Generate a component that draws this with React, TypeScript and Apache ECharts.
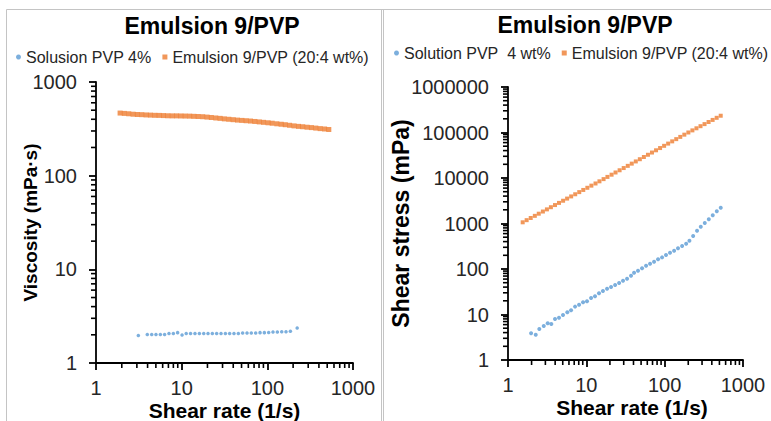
import React, { useEffect, useRef } from "react";
import * as echarts from "echarts";

const FONT = "'Liberation Sans', Arial, Helvetica, sans-serif";
const BLUE = "#5b9bd5";
const ORANGE = "#ed7d31";
const AXIS = "#000000";
const LABEL = "#262626";
const BORDER = "#c4c4c4";

const TITLE = "Emulsion 9/PVP";
const X_NAME = "Shear rate (1/s)";
const Y_NAME_L = "Viscosity (mPa·s)";
const Y_NAME_R = "Shear stress (mPa)";
const NAME_SOL_L = "Solusion PVP 4%";
const NAME_SOL_R = "Solution PVP\u00a0 4 wt%";
const NAME_EMU = "Emulsion 9/PVP (20:4 wt%)";

// Left chart: viscosity vs shear rate
const L_SOL_X = [3.12, 3.97, 4.47, 5.01, 5.64, 6.32, 7.11, 8.0, 8.97, 10.1, 11.3, 12.7, 14.3, 16.1, 18.1, 20.3, 22.8, 25.6, 28.8, 32.4, 36.3, 40.8, 45.9, 51.5, 57.9, 65.0, 73.1, 82.2, 92.3, 103.7, 116.4, 130.9, 147.2, 165.2, 185.8, 223];
const L_SOL_Y = [1.97, 2.01, 2.01, 2.02, 2.02, 2.01, 2.07, 2.06, 2.11, 1.99, 2.07, 2.07, 2.06, 2.06, 2.07, 2.07, 2.06, 2.07, 2.07, 2.07, 2.07, 2.07, 2.07, 2.09, 2.09, 2.09, 2.09, 2.11, 2.11, 2.12, 2.14, 2.14, 2.16, 2.16, 2.18, 2.36];

const L_EMU_X = [1.91, 2.14, 2.41, 2.71, 3.04, 3.42, 3.85, 4.32, 4.86, 5.46, 6.14, 6.9, 7.76, 8.72, 9.8, 11.0, 12.4, 13.9, 15.6, 17.6, 19.8, 22.2, 25.0, 28.1, 31.5, 35.5, 39.9, 44.8, 50.4, 56.6, 63.7, 71.6, 80.5, 90.4, 102, 114, 129, 145, 162, 182, 205, 231, 259, 291, 327, 368, 414, 466, 522];
const L_EMU_Y = [466, 462, 458, 453, 450, 448, 445, 443, 441, 440, 438, 436, 435, 435, 434, 433, 432, 430, 428, 426, 422, 418, 413, 409, 404, 400, 396, 392, 389, 386, 383, 379, 375, 371, 367, 363, 358, 354, 350, 345, 340, 336, 333, 329, 326, 322, 318, 315, 311];

// Right chart: shear stress vs shear rate
const R_SOL_X = [1.97, 2.26, 2.51, 2.86, 3.21, 3.57, 3.98, 4.48, 5.04, 5.72, 6.38, 7.18, 8.07, 9.08, 10.2, 11.5, 12.9, 14.5, 16.3, 18.4, 20.7, 23.3, 26.2, 29.4, 33.1, 37.2, 40.7, 45.7, 51.5, 57.9, 65.1, 73.2, 82.4, 92.7, 104, 117, 132, 148, 167, 188, 207, 231, 259, 289, 325, 366, 411, 463, 520];
const R_SOL_Y = [3.86, 3.6, 4.8, 5.6, 6.4, 6.2, 7.96, 8.5, 9.75, 11.2, 12.4, 14.9, 16.4, 18.5, 19.5, 23.1, 25.1, 29.2, 32.8, 36.9, 40.2, 44.5, 49.2, 55.3, 61.2, 71.3, 83, 91.8, 103.5, 118, 131, 145, 163, 180, 203, 228, 253, 285, 320, 360, 419, 531, 695, 851, 1025, 1236, 1514, 1854, 2223];

const R_EMU_X = [1.54, 1.73, 1.95, 2.2, 2.47, 2.79, 3.14, 3.53, 3.98, 4.48, 5.05, 5.68, 6.4, 7.21, 8.12, 9.14, 10.3, 11.6, 13.1, 14.7, 16.6, 18.6, 21.0, 23.6, 26.6, 30.0, 33.8, 38.0, 42.8, 48.2, 54.3, 61.2, 68.9, 77.6, 87.4, 98.4, 110.8, 124.8, 140.5, 158.2, 178.2, 200.7, 226, 254.5, 286.7, 322.8, 363.6, 409.5, 461.2, 519.4];
const R_EMU_Y = [1062, 1184, 1321, 1473, 1643, 1833, 2044, 2280, 2543, 2837, 3164, 3528, 3936, 4390, 4896, 5462, 6092, 6795, 7578, 8453, 9450, 10570, 11820, 13220, 14790, 16540, 18490, 20680, 23130, 25870, 28950, 32420, 36280, 40630, 45500, 50930, 57030, 63860, 71480, 80060, 89630, 100100, 111300, 123700, 137600, 152900, 170100, 189000, 210200, 233700];

// Axis ranges and log minor tick multipliers
const L_X_MAX = 1000;
const L_Y_MAX = 1000;
const R_X_MAX = 1000;
const R_Y_MAX = 1000000;
const MINOR_MULTS = [2, 3, 4, 5, 6, 7, 8, 9];
const L_X_DECADES = [1, 10, 100];
const L_Y_DECADES = [1, 10, 100];
const R_X_DECADES = [1, 10, 100];
const R_Y_DECADES = [1, 10, 100, 1000, 10000, 100000];

const zip = (xs: number[], ys: number[]) => xs.map((x, i) => [x, ys[i]]);
const minorValues = (decades: number[]) =>
  decades.flatMap((d) => MINOR_MULTS.map((m) => m * d));

const axisLine = { show: true, lineStyle: { color: AXIS, width: 1.8 } };
const axisTick = { show: true, inside: false, length: 7, lineStyle: { color: AXIS, width: 1.8 } };

function xAxisOf(gridIndex: number, max: number, namePad: number[]) {
  return {
    type: "log",
    logBase: 10,
    gridIndex,
    min: 1,
    max,
    splitNumber: 5,
    name: X_NAME,
    nameLocation: "middle",
    nameGap: 37,
    nameMoveOverlap: false,
    nameTextStyle: {
      fontFamily: FONT,
      fontSize: 21,
      fontWeight: "bold",
      color: "#000",
      padding: namePad,
    },
    axisLine,
    axisTick,
    minorTick: { show: false },
    splitLine: { show: false },
    axisLabel: {
      margin: 15,
      fontFamily: FONT,
      fontSize: 20,
      color: LABEL,
      formatter: (v: number) => String(Math.round(v)),
    },
  };
}

function yAxisOf(gridIndex: number, max: number, name: string, nameGap: number, nameSize: number) {
  return {
    type: "log",
    logBase: 10,
    gridIndex,
    min: 1,
    max,
    splitNumber: 5,
    name,
    nameLocation: "middle",
    nameGap,
    nameMoveOverlap: false,
    nameTextStyle: {
      fontFamily: FONT,
      fontSize: nameSize,
      fontWeight: "bold",
      color: "#000",
    },
    axisLine,
    axisTick,
    minorTick: { show: false },
    splitLine: { show: false },
    axisLabel: {
      margin: 19,
      fontFamily: FONT,
      fontSize: 20,
      color: LABEL,
      formatter: (v: number) => String(Math.round(v)),
    },
  };
}

// Minor log ticks: small black rect symbols placed by the axes' own scales
function minorTickSeries(axisIdx: number, which: "x" | "y", data: number[][]) {
  return {
    type: "scatter",
    xAxisIndex: axisIdx,
    yAxisIndex: axisIdx,
    silent: true,
    clip: false,
    z: 5,
    symbol: "rect",
    symbolSize: which === "y" ? [5, 1.6] : [1.6, 5],
    symbolOffset: which === "y" ? [-2.5, 0] : [0, 2.5],
    itemStyle: { color: AXIS, opacity: 1 },
    data,
  };
}

function legendOf(left: number, top: number, names: string[]) {
  return {
    left,
    top,
    width: 390,
    padding: 0,
    orient: "horizontal",
    itemWidth: 5,
    itemHeight: 5,
    itemGap: 11,
    selectedMode: false,
    textStyle: { fontFamily: FONT, fontSize: 16, color: "#262626" },
    data: [
      { name: names[0], icon: "circle" },
      { name: names[1], icon: "rect" },
    ],
  };
}

function borderLine(x1: number, y1: number, x2: number, y2: number) {
  return {
    type: "line",
    z: -10,
    silent: true,
    shape: { x1, y1, x2, y2 },
    style: { stroke: BORDER, lineWidth: 1 },
  };
}

export default function App() {
  const ref = useRef<HTMLDivElement>(null);

  useEffect(() => {
    if (!ref.current) return;
    const chart = echarts.init(ref.current, undefined, { renderer: "svg" });
    const option: any = {
      animation: false,
      backgroundColor: "#ffffff",
      graphic: [
        borderLine(6.5, 9.5, 771, 9.5),
        borderLine(6.5, 9.5, 6.5, 421),
        borderLine(381.5, 9.5, 381.5, 421),
        borderLine(383.5, 9.5, 383.5, 421),
        {
          type: "text",
          x: 212,
          y: 26,
          style: {
            text: TITLE,
            fontFamily: FONT,
            fontSize: 23,
            fontWeight: "bold",
            fill: "#000",
            align: "center",
            verticalAlign: "middle",
          },
        },
        {
          type: "text",
          x: 585,
          y: 25,
          style: {
            text: TITLE,
            fontFamily: FONT,
            fontSize: 23,
            fontWeight: "bold",
            fill: "#000",
            align: "center",
            verticalAlign: "middle",
          },
        },
      ],
      legend: [
        legendOf(16, 49, [NAME_SOL_L, NAME_EMU]),
        legendOf(394, 45, [NAME_SOL_R, NAME_EMU]),
      ],
      grid: [
        { left: 96, top: 82, width: 257, height: 281, outerBoundsMode: "none", containLabel: false },
        { left: 508, top: 87, width: 235, height: 273, outerBoundsMode: "none", containLabel: false },
      ],
      xAxis: [xAxisOf(0, L_X_MAX, [0, 0, 0, 0]), xAxisOf(1, R_X_MAX, [0, 0, 0, 13])],
      yAxis: [
        yAxisOf(0, L_Y_MAX, Y_NAME_L, 56, 19),
        yAxisOf(1, R_Y_MAX, Y_NAME_R, 96, 23),
      ],
      series: [
        {
          name: NAME_SOL_L,
          type: "scatter",
          xAxisIndex: 0,
          yAxisIndex: 0,
          symbol: "circle",
          symbolSize: 3.5,
          itemStyle: { color: BLUE },
          data: zip(L_SOL_X, L_SOL_Y),
          z: 3,
        },
        {
          name: NAME_EMU,
          type: "scatter",
          xAxisIndex: 0,
          yAxisIndex: 0,
          symbol: "rect",
          symbolSize: 5,
          itemStyle: { color: ORANGE },
          data: zip(L_EMU_X, L_EMU_Y),
          z: 3,
        },
        {
          name: NAME_SOL_R,
          type: "scatter",
          xAxisIndex: 1,
          yAxisIndex: 1,
          symbol: "circle",
          symbolSize: 4,
          itemStyle: { color: BLUE },
          data: zip(R_SOL_X, R_SOL_Y),
          z: 3,
        },
        {
          name: NAME_EMU,
          type: "scatter",
          xAxisIndex: 1,
          yAxisIndex: 1,
          symbol: "rect",
          symbolSize: 4,
          itemStyle: { color: ORANGE },
          data: zip(R_EMU_X, R_EMU_Y),
          z: 3,
        },
        minorTickSeries(0, "y", minorValues(L_Y_DECADES).map((v) => [1, v])),
        minorTickSeries(0, "x", minorValues(L_X_DECADES).map((v) => [v, 1])),
        minorTickSeries(1, "y", minorValues(R_Y_DECADES).map((v) => [1, v])),
        minorTickSeries(1, "x", minorValues(R_X_DECADES).map((v) => [v, 1])),
      ],
    };
    chart.setOption(option);
    return () => chart.dispose();
  }, []);

  return (
    <div
      ref={ref}
      style={{ position: "absolute", left: 0, top: 0, width: 771, height: 421 }}
    />
  );
}
